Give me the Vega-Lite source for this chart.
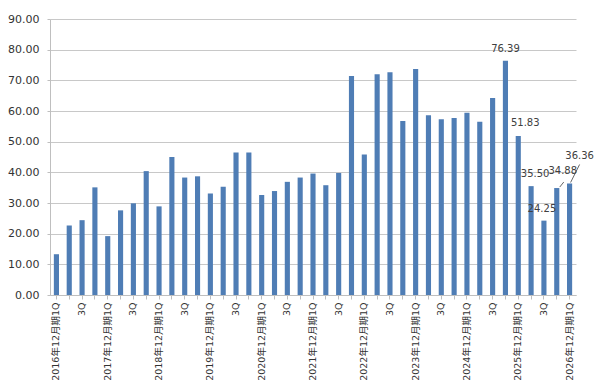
{
  "$schema": "https://vega.github.io/schema/vega-lite/v6.json",
  "width": 526,
  "height": 276,
  "autosize": {"type": "none"},
  "padding": {"left": 50, "top": 19, "right": 24, "bottom": 96},
  "background": "white",
  "config": {
    "view": {"stroke": null},
    "font": "DejaVu Sans, Noto Sans CJK JP"
  },
  "data": {
    "values": [
      {"period": "2016年12月期1Q", "value": 13.3},
      {"period": "2016年12月期2Q", "value": 22.7},
      {"period": "2016年12月期3Q", "value": 24.4},
      {"period": "2016年12月期4Q", "value": 35.1},
      {"period": "2017年12月期1Q", "value": 19.2},
      {"period": "2017年12月期2Q", "value": 27.6},
      {"period": "2017年12月期3Q", "value": 29.9},
      {"period": "2017年12月期4Q", "value": 40.4},
      {"period": "2018年12月期1Q", "value": 28.9},
      {"period": "2018年12月期2Q", "value": 45.0},
      {"period": "2018年12月期3Q", "value": 38.3},
      {"period": "2018年12月期4Q", "value": 38.7},
      {"period": "2019年12月期1Q", "value": 33.1},
      {"period": "2019年12月期2Q", "value": 35.3},
      {"period": "2019年12月期3Q", "value": 46.5},
      {"period": "2019年12月期4Q", "value": 46.5},
      {"period": "2020年12月期1Q", "value": 32.6},
      {"period": "2020年12月期2Q", "value": 33.9},
      {"period": "2020年12月期3Q", "value": 36.9},
      {"period": "2020年12月期4Q", "value": 38.3},
      {"period": "2021年12月期1Q", "value": 39.6},
      {"period": "2021年12月期2Q", "value": 35.8},
      {"period": "2021年12月期3Q", "value": 39.8},
      {"period": "2021年12月期4Q", "value": 71.4},
      {"period": "2022年12月期1Q", "value": 45.8},
      {"period": "2022年12月期2Q", "value": 72.0},
      {"period": "2022年12月期3Q", "value": 72.6},
      {"period": "2022年12月期4Q", "value": 56.7},
      {"period": "2023年12月期1Q", "value": 73.7},
      {"period": "2023年12月期2Q", "value": 58.6},
      {"period": "2023年12月期3Q", "value": 57.3},
      {"period": "2023年12月期4Q", "value": 57.7},
      {"period": "2024年12月期1Q", "value": 59.4},
      {"period": "2024年12月期2Q", "value": 56.5},
      {"period": "2024年12月期3Q", "value": 64.2},
      {"period": "2024年12月期4Q", "value": 76.39},
      {"period": "2025年12月期1Q", "value": 51.83},
      {"period": "2025年12月期2Q", "value": 35.50},
      {"period": "2025年12月期3Q", "value": 24.25},
      {"period": "2025年12月期4Q", "value": 34.88},
      {"period": "2026年12月期1Q", "value": 36.36}
    ]
  },
  "encoding": {
    "x": {
      "field": "period",
      "type": "nominal",
      "sort": null,
      "scale": {"paddingInner": 0.6, "paddingOuter": 0.3},
      "axis": {
        "title": null,
        "labelAngle": -90,
        "labelExpr": "slice(datum.value,-2)=='1Q' ? datum.value : (slice(datum.value,-2)=='3Q' ? '3Q' : '')",
        "labelOverlap": false,
        "labelFontSize": 9.5,
        "labelColor": "#333333",
        "labelPadding": 3,
        "tickSize": 4,
        "tickColor": "#BFBFBF",
        "domainColor": "#BFBFBF"
      }
    },
    "y": {
      "field": "value",
      "type": "quantitative",
      "scale": {"domain": [0, 90]},
      "axis": {
        "title": null,
        "values": [0, 10, 20, 30, 40, 50, 60, 70, 80, 90],
        "format": ".2f",
        "labelFontSize": 11,
        "labelColor": "#333333",
        "labelPadding": 8,
        "tickSize": 3,
        "tickColor": "#BFBFBF",
        "gridColor": "#C8C8C8",
        "domainColor": "#BFBFBF"
      }
    }
  },
  "layer": [
    {"mark": {"type": "bar", "color": "#4F7DB5"}},
    {
      "transform": [{"filter": "datum.period=='2024年12月期4Q'"}],
      "mark": {"type": "text", "baseline": "bottom", "dy": -7, "fontSize": 10, "color": "#404040"},
      "encoding": {"text": {"field": "value", "format": ".2f"}}
    },
    {
      "transform": [{"filter": "datum.period=='2025年12月期1Q'"}],
      "mark": {"type": "text", "baseline": "bottom", "dx": 7, "dy": -8, "fontSize": 10, "color": "#404040"},
      "encoding": {"text": {"field": "value", "format": ".2f"}}
    },
    {
      "transform": [{"filter": "datum.period=='2025年12月期2Q'"}],
      "mark": {"type": "text", "baseline": "bottom", "dx": 4, "dy": -7, "fontSize": 10, "color": "#404040"},
      "encoding": {"text": {"field": "value", "format": ".2f"}}
    },
    {
      "transform": [{"filter": "datum.period=='2025年12月期3Q'"}],
      "mark": {"type": "text", "baseline": "bottom", "dx": -2, "dy": -7, "fontSize": 10, "color": "#404040"},
      "encoding": {"text": {"field": "value", "format": ".2f"}}
    },
    {
      "transform": [{"filter": "datum.period=='2025年12月期4Q'"}],
      "mark": {"type": "text", "baseline": "bottom", "dx": 6, "dy": -12, "fontSize": 10, "color": "#404040"},
      "encoding": {"text": {"field": "value", "format": ".2f"}}
    },
    {
      "transform": [{"filter": "datum.period=='2026年12月期1Q'"}],
      "mark": {"type": "text", "baseline": "bottom", "dx": 10, "dy": -22, "fontSize": 10, "color": "#404040"},
      "encoding": {"text": {"field": "value", "format": ".2f"}}
    },
    {
      "transform": [{"filter": "datum.period=='2025年12月期4Q'"}],
      "mark": {"type": "rule", "color": "#404040", "strokeWidth": 0.8, "xOffset": 3, "yOffset": -1, "x2Offset": 7, "y2Offset": -6},
      "encoding": {
        "x2": {"field": "period"},
        "y2": {"field": "value"}
      }
    },
    {
      "transform": [{"filter": "datum.period=='2026年12月期1Q'"}],
      "mark": {"type": "rule", "color": "#404040", "strokeWidth": 0.8, "xOffset": 1, "yOffset": -1, "x2Offset": 10, "y2Offset": -19},
      "encoding": {
        "x2": {"field": "period"},
        "y2": {"field": "value"}
      }
    }
  ]
}
